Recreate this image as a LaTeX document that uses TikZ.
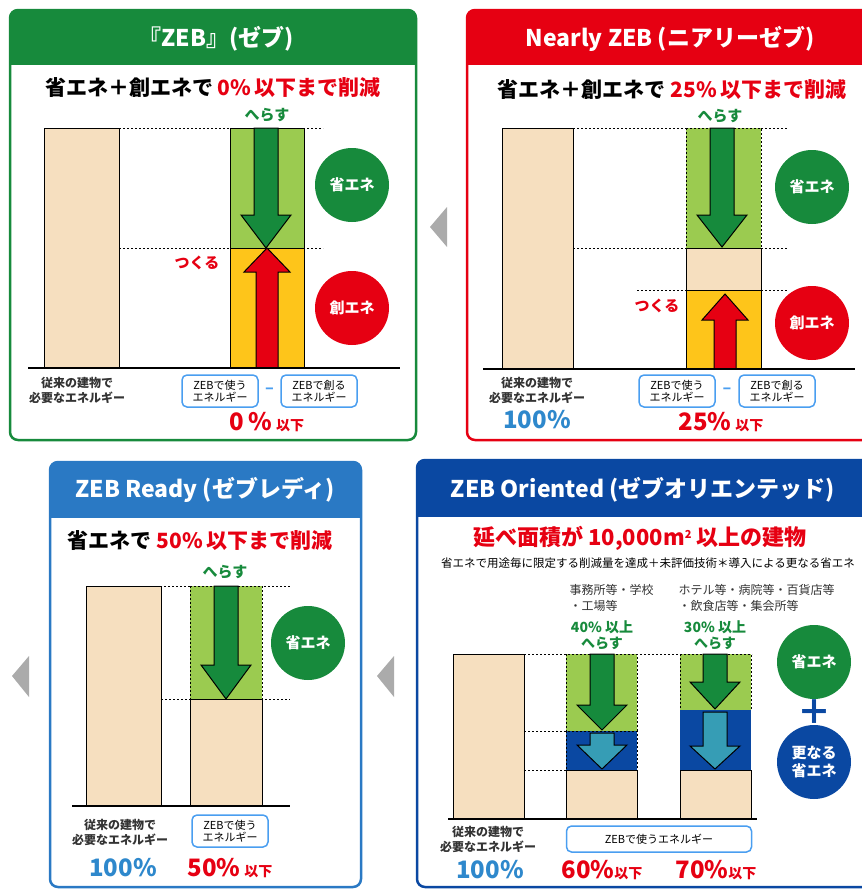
\documentclass[tikz,border=0pt]{standalone}
\usepackage{fontspec}
\setmainfont{Noto Sans CJK JP}
\usetikzlibrary{calc}

\definecolor{zebgreen}{HTML}{178A3C}
\definecolor{lgreen}{HTML}{9BCB50}
\definecolor{dgreen}{HTML}{168A3C}
\definecolor{zebred}{HTML}{E60012}
\definecolor{zebyellow}{HTML}{FEC51A}
\definecolor{beige}{HTML}{F6DFBF}
\definecolor{readyblue}{HTML}{2A79C4}
\definecolor{oriblue}{HTML}{0A48A2}
\definecolor{teal}{HTML}{369DB5}
\definecolor{boxblue}{HTML}{4A9EF0}
\definecolor{pctblue}{HTML}{2E88CC}
\definecolor{txtgray}{HTML}{333333}
\definecolor{trigray}{HTML}{ABABAB}

\tikzstyle{panel} = [line width=2.5pt, rounded corners=8pt]
\tikzstyle{head-txt} = [text=white, font=\bfseries\fontsize{23}{25}\selectfont]
\tikzstyle{sub-txt} = [font=\bfseries\fontsize{21}{23}\selectfont]
\tikzstyle{verb-txt} = [font=\bfseries\fontsize{15}{17}\selectfont]
\tikzstyle{note-txt} = [font=\bfseries\fontsize{12}{15}\selectfont, text=txtgray, align=center]
\tikzstyle{kind-txt} = [font=\fontsize{12}{16}\selectfont, text=txtgray, align=left]
\tikzstyle{use-box} = [draw=boxblue, line width=1.5pt, rounded corners=5pt, align=center, font=\fontsize{11}{12}\selectfont, minimum width=76pt, minimum height=32pt, inner sep=1pt]
\tikzstyle{circ} = [circle, minimum size=74pt, text=white, font=\bfseries\fontsize{15}{18}\selectfont, align=center, inner sep=0pt]
\tikzstyle{bar} = [draw=black, line width=1pt]
\tikzstyle{guide} = [line width=1pt, dash pattern=on 2pt off 2pt]
\tikzstyle{base-line} = [line width=2.5pt]
\tikzstyle{pct-txt} = [font=\bfseries\fontsize{24}{26}\selectfont, anchor=base]

% arrows inside the bars
\newcommand{\dnarr}[5]{% colour, x centre, top, head, tip
  \filldraw[fill=#1, draw=black, line width=1pt]
    ({#2-12},#3) -- ({#2+12},#3) -- ({#2+12},#4) -- ({#2+25},#4) -- (#2,#5)
    -- ({#2-25},#4) -- ({#2-12},#4) -- cycle;}
\newcommand{\uparr}[5]{% colour, x centre, bottom, head, tip
  \filldraw[fill=#1, draw=black, line width=1pt]
    ({#2-11},#3) -- ({#2+11},#3) -- ({#2+11},#4) -- ({#2+23},#4) -- (#2,#5)
    -- ({#2-23},#4) -- ({#2-11},#4) -- cycle;}

\begin{document}
\begin{tikzpicture}[x=1pt, y=-1pt]
\path[use as bounding box, clip] (0,0) rectangle (862,889);

% ZEB
\begin{scope}
  \clip[rounded corners=8pt] (10,10) rectangle (416,440);
  \fill[zebgreen] (10,10) rectangle (416,65);
\end{scope}
\draw[panel, draw=zebgreen] (10,10) rectangle (416,440);
\node (zeb-head) [head-txt] at (216,39) {『ZEB』(ゼブ)};
\node (zeb-sub) [sub-txt] at (213,88) {省エネ＋創エネで \textcolor{zebred}{0\%\,以下まで削減}};
\node (zeb-cut) [verb-txt, text=zebgreen] at (267,115) {へらす};
\filldraw[bar, fill=beige] (44,128) rectangle (119,368);
\draw[guide] (119,128) -- (323,128);
\draw[guide] (119,248) -- (323,248);
\filldraw[bar, fill=lgreen] (230,128) rectangle (304,248);
\filldraw[bar, fill=zebyellow] (230,248) rectangle (304,368);
\dnarr{dgreen}{266}{128}{215}{248}
\uparr{zebred}{267}{368}{272}{248}
\draw[base-line] (28,368) -- (400,368);
\node (zeb-make) [verb-txt, text=zebred] at (197,263) {つくる};
\node (zeb-save) [circ, fill=zebgreen] at (352,185) {省エネ};
\node (zeb-gen) [circ, fill=zebred] at (352,308) {創エネ};
\node (zeb-old) [note-txt] at (77,390) {従来の建物で\\必要なエネルギー};
\node (zeb-use) [use-box] at (220,391) {ZEBで使う\\エネルギー};
\node (zeb-made) [use-box] at (319,391) {ZEBで創る\\エネルギー};
\node (zeb-minus) [text=boxblue, font=\bfseries\fontsize{16}{16}\selectfont] at ($(zeb-use)!0.5!(zeb-made)$) {–};
\node (zeb-pct) [pct-txt, text=zebred] at (267,430) {0\,\%\,{\fontsize{14}{14}\selectfont 以下}};

\fill[trigray] (430,227) -- (447,207) -- (447,247) -- cycle;

% Nearly ZEB
\begin{scope}
  \clip[rounded corners=8pt] (467,10) rectangle (890,440);
  \fill[zebred] (467,10) rectangle (890,65);
\end{scope}
\draw[panel, draw=zebred] (467,10) rectangle (890,440);
\node (near-head) [head-txt] at (670,39) {Nearly ZEB (ニアリーゼブ)};
\node (near-sub) [sub-txt] at (672,90) {省エネ＋創エネで \textcolor{zebred}{25\%\,以下まで削減}};
\node (near-cut) [verb-txt, text=zebgreen] at (720,116) {へらす};
\filldraw[bar, fill=beige] (502,128) rectangle (573,369);
\draw[guide] (573,128) -- (788,128);
\draw[guide] (573,248) -- (788,248);
\draw[guide] (637,290) -- (788,290);
\fill[lgreen] (686,128) rectangle (761,248);
\draw[guide] (686,128) rectangle (761,248);
\filldraw[bar, fill=beige] (686,248) rectangle (761,290);
\filldraw[bar, fill=zebyellow] (686,290) rectangle (761,369);
\dnarr{dgreen}{722}{128}{215}{247}
\uparr{zebred}{725}{369}{320}{294}
\draw[base-line] (483,369) -- (855,369);
\node (near-make) [verb-txt, text=zebred] at (657,306) {つくる};
\node (near-save) [circ, fill=zebgreen] at (812,187) {省エネ};
\node (near-gen) [circ, fill=zebred] at (812,323) {創エネ};
\node (near-old) [note-txt] at (537,390) {従来の建物で\\必要なエネルギー};
\node (near-use) [use-box] at (677,391) {ZEBで使う\\エネルギー};
\node (near-made) [use-box] at (777,391) {ZEBで創る\\エネルギー};
\node (near-minus) [text=boxblue, font=\bfseries\fontsize{16}{16}\selectfont] at ($(near-use)!0.5!(near-made)$) {–};
\node (near-all) [pct-txt, text=pctblue] at (537,428) {100\%};
\node (near-pct) [pct-txt, text=zebred] at (721,430) {25\%\,{\fontsize{14}{14}\selectfont 以下}};

\fill[trigray] (12,676) -- (29,656) -- (29,697) -- cycle;

% ZEB Ready
\begin{scope}
  \clip[rounded corners=8pt] (50,462) rectangle (361,887);
  \fill[readyblue] (50,462) rectangle (361,518);
\end{scope}
\draw[panel, draw=readyblue] (50,462) rectangle (361,887);
\node (rdy-head) [head-txt] at (205,490) {ZEB Ready (ゼブレディ)};
\node (rdy-sub) [sub-txt] at (200,541) {省エネで \textcolor{zebred}{50\%\,以下まで削減}};
\node (rdy-cut) [verb-txt, text=zebgreen] at (225,572) {へらす};
\filldraw[bar, fill=beige] (86,586) rectangle (161,806);
\draw[guide] (140,586) -- (290,586);
\draw[guide] (161,699) -- (290,699);
\fill[lgreen] (190,586) rectangle (262,699);
\draw[guide] (190,586) rectangle (262,699);
\filldraw[bar, fill=beige] (190,699) rectangle (262,806);
\dnarr{dgreen}{226}{586}{665}{699}
\draw[base-line] (72,806) -- (290,806);
\node (rdy-save) [circ, fill=zebgreen] at (308,643) {省エネ};
\node (rdy-old) [note-txt] at (120,832) {従来の建物で\\必要なエネルギー};
\node (rdy-use) [use-box] at (230,831) {ZEBで使う\\エネルギー};
\node (rdy-all) [pct-txt, text=pctblue] at (123,876) {100\%};
\node (rdy-pct) [pct-txt, text=zebred] at (230,876) {50\%\,{\fontsize{14}{14}\selectfont 以下}};

\fill[trigray] (377,676) -- (394,656) -- (394,697) -- cycle;

% ZEB Oriented
\begin{scope}
  \clip[rounded corners=8pt] (417,460) rectangle (890,887);
  \fill[oriblue] (417,460) rectangle (890,517);
\end{scope}
\draw[panel, draw=oriblue] (417,460) rectangle (890,887);
\node (ori-head) [head-txt] at (643,490) {ZEB Oriented (ゼブオリエンテッド)};
\node (ori-sub) [sub-txt, text=zebred, font=\bfseries\fontsize{22}{24}\selectfont] at (640,538) {延べ面積が 10,000m{\fontsize{11}{11}\selectfont\raisebox{7pt}{2}} 以上の建物};
\node (ori-note) [font=\fontsize{11.5}{13}\selectfont, text=black] at (648,563) {省エネで用途毎に限定する削減量を達成＋未評価技術＊導入による更なる省エネ};
\node (ori-kind1) [kind-txt, anchor=west] at (566,598) {事務所等・学校\\・工場等};
\node (ori-kind2) [kind-txt, anchor=west] at (675,598) {ホテル等・病院等・百貨店等\\・飲食店等・集会所等};
\node (ori-cut1) [verb-txt, text=zebgreen, align=center, font=\bfseries\fontsize{14}{16}\selectfont] at (602,635) {40\% 以上\\へらす};
\node (ori-cut2) [verb-txt, text=zebgreen, align=center, font=\bfseries\fontsize{14}{16}\selectfont] at (715,635) {30\% 以上\\へらす};
\filldraw[bar, fill=beige] (453,654) rectangle (524,819);
\draw[guide] (524,654) -- (752,654);
\draw[guide] (524,731) -- (566,731);
\draw[guide] (524,770) -- (566,770);
% office bar
\fill[lgreen] (566,654) rectangle (637,731);
\draw[guide] (566,654) rectangle (637,731);
\fill[oriblue] (566,731) rectangle (637,770);
\draw[guide] (566,731) rectangle (637,770);
\filldraw[bar, fill=beige] (566,770) rectangle (637,819);
\dnarr{dgreen}{602}{654}{705}{730}
\dnarr{teal}{602}{733}{745}{769}
% hotel bar
\fill[lgreen] (680,654) rectangle (751,710);
\draw[guide] (680,654) rectangle (751,710);
\fill[oriblue] (680,710) rectangle (751,770);
\filldraw[bar, fill=beige] (680,770) rectangle (751,819);
\dnarr{dgreen}{715}{654}{682}{709}
\dnarr{teal}{715}{712}{746}{769}
\draw[base-line] (448,819) -- (757,819);
\node (ori-save) [circ, fill=zebgreen] at (814,662) {省エネ};
\node (ori-more) [circ, fill=oriblue] at (814,762) {更なる\\省エネ};
\node (ori-plus) [text=oriblue, font=\bfseries\fontsize{34}{34}\selectfont] at ($(ori-save)!0.5!(ori-more)$) {＋};
\node (ori-old) [note-txt] at (488,839) {従来の建物で\\必要なエネルギー};
\node (ori-use) [use-box, minimum width=185pt, minimum height=26pt] at (659,839) {ZEBで使うエネルギー};
\node (ori-all) [pct-txt, text=pctblue] at (490,878) {100\%};
\node (ori-pct1) [pct-txt, text=zebred] at (602,878) {60\%{\fontsize{14}{14}\selectfont 以下}};
\node (ori-pct2) [pct-txt, text=zebred] at (716,878) {70\%{\fontsize{14}{14}\selectfont 以下}};

\end{tikzpicture}
\end{document}
